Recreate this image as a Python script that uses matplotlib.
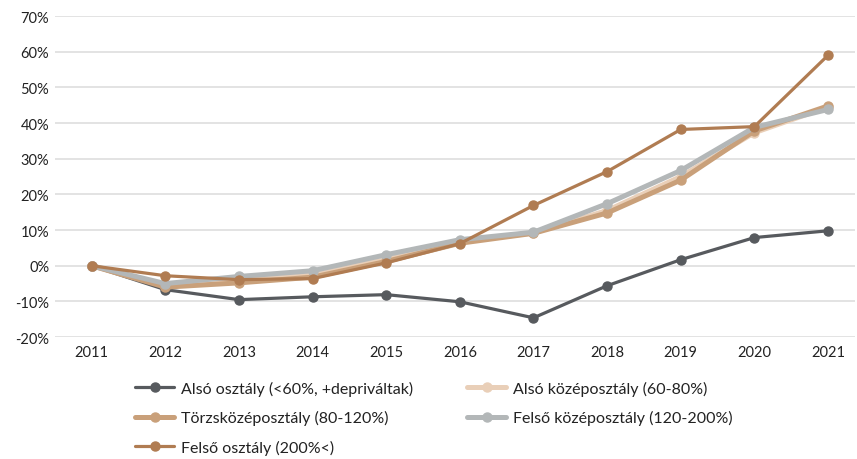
import matplotlib
matplotlib.use("Agg")
import matplotlib.pyplot as plt
from matplotlib.ticker import FuncFormatter

plt.rcParams['font.family'] = ['Lato', 'DejaVu Sans']

years = [2011, 2012, 2013, 2014, 2015, 2016, 2017, 2018, 2019, 2020, 2021]
also_osztaly = [0, -6.7, -9.5, -8.7, -8.1, -10.1, -14.6, -5.6, 1.7, 7.9, 9.8]
also_kozep = [0, -5.7, -4.2, -2.5, 1.8, 6.7, 9.2, 15.5, 25.0, 37.3, 44.5]
torzskozep = [0, -6.0, -4.8, -3.2, 1.2, 6.3, 9.1, 14.8, 24.0, 37.8, 44.8]
felso_kozep = [0, -5.0, -3.0, -1.4, 3.1, 7.3, 9.4, 17.4, 26.7, 38.8, 43.8]
felso_osztaly = [0, -2.8, -3.9, -3.6, 0.8, 6.2, 16.9, 26.4, 38.2, 39.0, 59.0]

labels = ["Alsó osztály (<60%, +depriváltak)", "Alsó középosztály (60-80%)",
          "Törzsközéposztály (80-120%)", "Felső középosztály (120-200%)",
          "Felső osztály (200%<)"]
series = [also_osztaly, also_kozep, torzskozep, felso_kozep, felso_osztaly]
colors = ["#575a5e", "#e9cfb8", "#c9a07a", "#b3b7b8", "#b07c52"]
widths = [2.3, 3.6, 3.6, 3.6, 2.3]

fig = plt.figure(figsize=(8.57, 4.6), dpi=100)
ax = fig.add_axes([0.064, 0.265, 0.934, 0.698])

handles = []
for s, lab, c, w in zip(series, labels, colors, widths):
    h, = ax.plot(years, s, color=c, lw=w, marker='o', ms=6.5, label=lab,
                 solid_capstyle='round', solid_joinstyle='round')
    handles.append(h)

ax.set_ylim(-20, 70)
ax.set_xlim(2010.5, 2021.37)
ax.set_yticks(range(-20, 71, 10))
ax.set_xticks(years)
ax.yaxis.set_major_formatter(FuncFormatter(lambda v, p: f"{int(v)}%"))
ax.grid(axis='y', color='#dedede', lw=1.2)
ax.set_axisbelow(True)
for sp in ax.spines.values():
    sp.set_visible(False)
ax.tick_params(length=0, labelsize=10.5, colors='#222222', pad=6)
ax.tick_params(axis='y', pad=4)

order = [0, 2, 4, 1, 3]
leg = fig.legend([handles[i] for i in order], [labels[i] for i in order],
                 ncol=2, loc='upper left', bbox_to_anchor=(0.158, 0.17),
                 frameon=False, fontsize=11.5, handlelength=2.4,
                 columnspacing=3.4, labelspacing=0.9, handletextpad=0.45,
                 borderaxespad=0, borderpad=0)
for t in leg.get_texts():
    t.set_color('#222222')

fig.savefig("out.png", dpi=100)
